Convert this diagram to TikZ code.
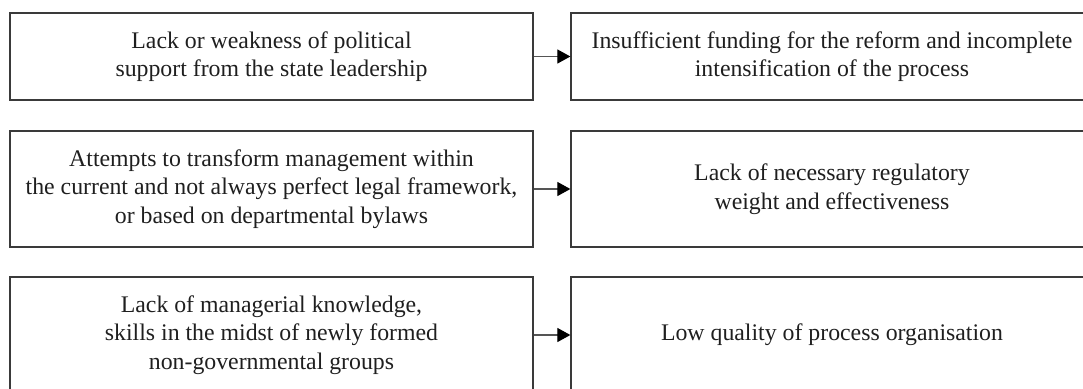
\documentclass[tikz,border=0pt]{standalone}
\usepackage{fontspec}
\setmainfont{Liberation Serif}
\usetikzlibrary{arrows.meta}
\definecolor{boxline}{HTML}{3A3A3A}
\definecolor{arrline}{HTML}{555555}
\tikzset{
  box/.style={draw=boxline, line width=1.3pt, rectangle, inner sep=0pt,
    minimum width=523pt, align=center, text=black!88,
    font=\fontsize{23.8pt}{28.5pt}\selectfont},
  rbox/.style={box, minimum width=522pt},
  conn/.style={draw=arrline, line width=1.2pt, -{Triangle[length=13pt,width=14pt,color=black]}}
}
\begin{document}
\begin{tikzpicture}[x=1pt,y=1pt]
\useasboundingbox (0,0) rectangle (1083,-388);
\clip (0,0) rectangle (1083,-388);
\node[box, minimum height=87pt] (l1) at (271.5,-56.5) {Lack or weakness of political\\support from the state leadership};
\node[rbox, minimum height=87pt] (r1) at (832,-56.5) {Insufficient funding for the reform and incomplete\\intensification of the process};
\node[box, minimum height=116pt] (l2) at (271.5,-189) {Attempts to transform management within\\the current and not always perfect legal framework,\\or based on departmental bylaws};
\node[rbox, minimum height=116pt] (r2) at (832,-189) {Lack of necessary regulatory\\weight and effectiveness};
\node[box, minimum height=116pt] (l3) at (271.5,-335) {Lack of managerial knowledge,\\skills in the midst of newly formed\\non-governmental groups};
\node[rbox, minimum height=116pt] (r3) at (832,-335) {Low quality of process organisation};
\draw[conn] (l1) -- (r1);
\draw[conn] (l2) -- (r2);
\draw[conn] (l3) -- (r3);
\end{tikzpicture}
\end{document}
